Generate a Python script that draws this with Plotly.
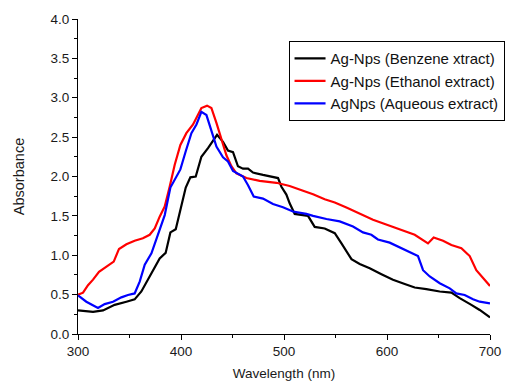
import plotly.graph_objects as go

benzene_x = [300, 314.6, 324.3, 335.6, 347, 355, 361.5, 369.6, 379.3, 385.1, 389.7, 394.9, 399.4, 404.6,
             409.1, 414.3, 419.8, 426.2, 435, 440.8, 445.6, 450.5, 455.3, 460.2, 465.1, 469.9, 479.6,
             494.2, 497.5, 502.3, 505.5, 510.4, 523.3, 529.8, 539.5, 549.3, 555.8, 565.5, 573.5, 583.2,
             594.6, 605.8, 617.2, 626.9, 638.2, 651.2, 662.5, 670.6, 681.9, 690, 700]
benzene_y = [0.30, 0.28, 0.30, 0.37, 0.41, 0.44, 0.54, 0.73, 0.96, 1.03, 1.29, 1.33, 1.56, 1.86,
             1.99, 2.00, 2.25, 2.36, 2.53, 2.44, 2.33, 2.31, 2.13, 2.10, 2.10, 2.05, 2.02,
             1.98, 1.87, 1.77, 1.66, 1.525, 1.50, 1.36, 1.34, 1.28, 1.15, 0.95, 0.89, 0.835,
             0.76, 0.69, 0.635, 0.59, 0.57, 0.54, 0.525, 0.455, 0.37, 0.305, 0.21]

ethanol_x = [300, 304.9, 309.7, 314.6, 320.4, 327.5, 334.7, 339.8, 347, 355, 363, 369.6, 374.5, 379.3,
             384.2, 389, 393.9, 399.4, 405.2, 411.7, 419.8, 425.3, 429.5, 434.4, 439.2, 444.1, 448.9,
             453.8, 463.5, 476.4, 492.6, 505.5, 518.5, 528.2, 539.5, 549.3, 560.6, 573.5, 586.4,
             602.6, 613.9, 626.9, 639.8, 645.3, 654.4, 662.5, 672.2, 680.3, 686.7, 693.2, 700]
ethanol_y = [0.50, 0.525, 0.62, 0.69, 0.79, 0.855, 0.92, 1.08, 1.14, 1.185, 1.215, 1.26, 1.34, 1.49,
             1.62, 1.87, 2.15, 2.40, 2.55, 2.66, 2.87, 2.90, 2.87, 2.68, 2.49, 2.27, 2.13,
             2.04, 1.98, 1.945, 1.92, 1.88, 1.82, 1.775, 1.71, 1.67, 1.605, 1.525, 1.45,
             1.375, 1.32, 1.26, 1.15, 1.225, 1.185, 1.13, 1.09, 0.99, 0.81, 0.71, 0.61]

aqueous_x = [300, 308.1, 319.4, 325.9, 334, 342.1, 348.5, 355, 359.9, 364.8, 371.3, 377.7, 384.2, 389.7,
             393.9, 399.4, 404.6, 410.1, 415, 419.8, 424.7, 429.5, 434.4, 440.8, 445.6, 450.5, 460.2,
             465.1, 470.6, 479.6, 489.3, 499, 508.7, 521.7, 528.2, 541.2, 554.1, 567, 576.7, 584.8,
             591.2, 602.6, 612.3, 622, 630.1, 635, 641.5, 651.2, 660.9, 667.3, 675.4, 683.5, 690, 700]
aqueous_y = [0.49, 0.41, 0.33, 0.38, 0.41, 0.465, 0.495, 0.515, 0.665, 0.88, 1.025, 1.26, 1.51, 1.86,
             1.96, 2.09, 2.32, 2.55, 2.66, 2.82, 2.78, 2.57, 2.38, 2.245, 2.19, 2.07, 2.00,
             1.89, 1.745, 1.72, 1.65, 1.61, 1.555, 1.525, 1.50, 1.46, 1.43, 1.365, 1.29, 1.26,
             1.20, 1.16, 1.10, 1.045, 0.99, 0.81, 0.73, 0.645, 0.58, 0.515, 0.495, 0.44, 0.41, 0.39]

names = ["Ag-Nps (Benzene xtract)", "Ag-Nps (Ethanol extract)", "AgNps (Aqueous extract)"]
colors = ["#000000", "#ff0000", "#0000ff"]

fig = go.Figure()
for (xs, ys), nm, c in zip([(benzene_x, benzene_y), (ethanol_x, ethanol_y), (aqueous_x, aqueous_y)], names, colors):
    fig.add_trace(go.Scatter(x=xs, y=ys, mode="lines", name=nm, line=dict(color=c, width=2.2)))

axis_common = dict(showline=True, linecolor="black", linewidth=1, ticks="outside", ticklen=5,
                   tickcolor="black", showgrid=False, zeroline=False, mirror=False,
                   tickfont=dict(family="Liberation Sans, Arial", size=13.5, color="#1a1a1a"))
fig.update_layout(
    width=523, height=381,
    margin=dict(l=78, r=33, t=19, b=47, autoexpand=False),
    plot_bgcolor="white", paper_bgcolor="white",
    font=dict(family="Liberation Sans, Arial", color="#1a1a1a"),
    showlegend=True,
    legend=dict(x=0.511, y=0.93, xanchor="left", yanchor="top", bgcolor="white",
                bordercolor="black", borderwidth=1, font=dict(size=15, color="#111"),
                tracegroupgap=0, itemwidth=31),
)
fig.update_xaxes(range=[300, 700], tickvals=[300, 400, 500, 600, 700], ticklabelstandoff=0,
                 minor=dict(ticks="outside", ticklen=3, tickcolor="black", dtick=50, tick0=300),
                 title=dict(text="Wavelength (nm)", font=dict(size=13.5), standoff=14),
                 **axis_common)
fig.update_yaxes(range=[0, 4], dtick=0.5, tickformat=".1f",
                 minor=dict(ticks="outside", ticklen=3, tickcolor="black", dtick=0.25, tick0=0),
                 title=dict(text="Absorbance", font=dict(size=14.5), standoff=22),
                 **axis_common)

fig.write_html("out.html")
